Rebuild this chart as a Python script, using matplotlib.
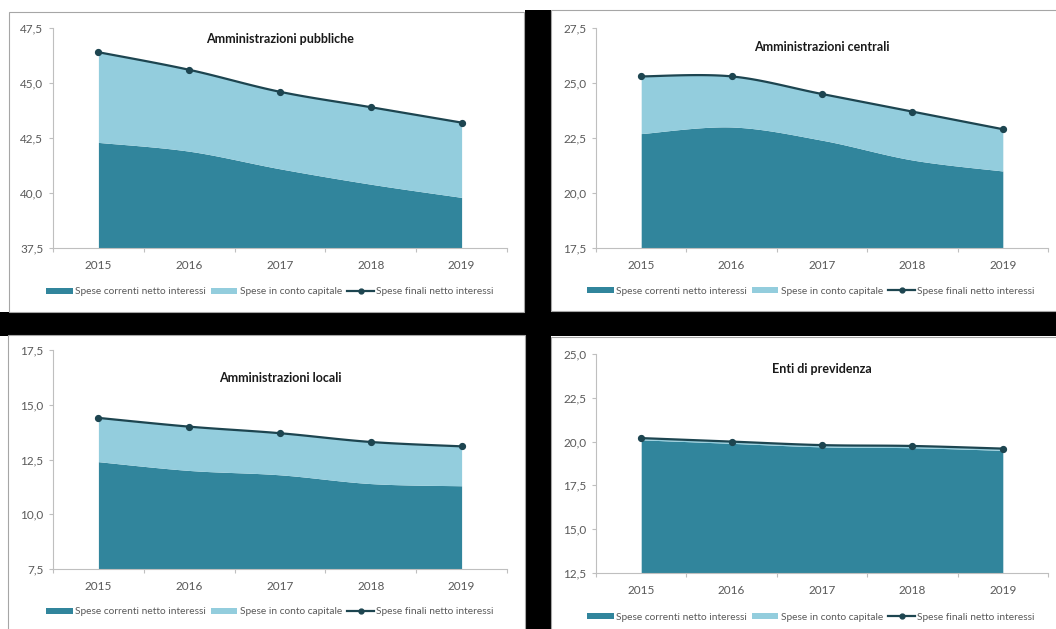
import numpy as np
import matplotlib
matplotlib.use("Agg")
import matplotlib.pyplot as plt
from matplotlib.patches import Rectangle, Patch
from matplotlib.lines import Line2D
from matplotlib.ticker import FixedLocator, FuncFormatter

plt.rcParams['font.family'] = ['Lato', 'DejaVu Sans']

anni = ["2015", "2016", "2017", "2018", "2019"]

# Amministrazioni pubbliche
pa_correnti = [42.3, 41.9, 41.1, 40.4, 39.8]
pa_capitale = [4.1, 3.7, 3.5, 3.5, 3.4]
pa_finali = [46.4, 45.6, 44.6, 43.9, 43.2]

# Amministrazioni centrali
ac_correnti = [22.7, 23.0, 22.4, 21.5, 21.0]
ac_capitale = [2.6, 2.3, 2.1, 2.2, 1.9]
ac_finali = [25.3, 25.3, 24.5, 23.7, 22.9]

# Amministrazioni locali
al_correnti = [12.4, 12.0, 11.8, 11.4, 11.3]
al_capitale = [2.0, 2.0, 1.9, 1.9, 1.8]
al_finali = [14.4, 14.0, 13.7, 13.3, 13.1]

# Enti di previdenza
ep_correnti = [20.1, 19.9, 19.7, 19.65, 19.5]
ep_capitale = [0.1, 0.1, 0.1, 0.1, 0.1]
ep_finali = [20.2, 20.0, 19.8, 19.75, 19.6]

titoli = ["Amministrazioni pubbliche", "Amministrazioni centrali",
          "Amministrazioni locali", "Enti di previdenza"]
nomi_serie = ["Spese correnti netto interessi", "Spese in conto capitale",
              "Spese finali netto interessi"]

C_DARK = "#31859C"
C_LIGHT = "#93CDDD"
C_LINE = "#1D4550"
C_TEXT = "#595959"
C_AXIS = "#BFBFBF"

W, H = 1056, 629
fig = plt.figure(figsize=(W / 100, H / 100), dpi=100)
fig.patch.set_facecolor("white")


def fx(x):
    return x / W


def fy(y):
    return 1 - y / H


def px_rect(x0, y0, x1, y1, **kw):
    """Rectangle given in pixel coordinates measured from the top-left corner."""
    return Rectangle((fx(x0), fy(y1)), fx(x1 - x0), fy(y0) - fy(y1),
                     transform=fig.transFigure, **kw)


def smooth(y, n=30):
    """Cardinal (Catmull-Rom style) Bezier smoothing through the points."""
    y = np.asarray(y, float)
    x = np.arange(len(y), dtype=float)
    xs, ys = [], []
    for i in range(len(y) - 1):
        p0 = (x[max(i - 1, 0)], y[max(i - 1, 0)])
        p1 = (x[i], y[i])
        p2 = (x[i + 1], y[i + 1])
        p3 = (x[min(i + 2, len(y) - 1)], y[min(i + 2, len(y) - 1)])
        c1 = (p1[0] + (p2[0] - p0[0]) / 6, p1[1] + (p2[1] - p0[1]) / 6)
        c2 = (p2[0] - (p3[0] - p1[0]) / 6, p2[1] - (p3[1] - p1[1]) / 6)
        t = np.linspace(0, 1, n, endpoint=(i == len(y) - 2))
        b0 = (1 - t) ** 3
        b1 = 3 * (1 - t) ** 2 * t
        b2 = 3 * (1 - t) * t ** 2
        b3 = t ** 3
        xs.append(b0 * p1[0] + b1 * c1[0] + b2 * c2[0] + b3 * p2[0])
        ys.append(b0 * p1[1] + b1 * c1[1] + b2 * c2[1] + b3 * p2[1])
    return np.concatenate(xs), np.concatenate(ys)


# black separators between the four panels
fig.add_artist(px_rect(525, 10, 551, 629, facecolor="black", edgecolor="none", zorder=0))
fig.add_artist(px_rect(0, 312, 1056, 336, facecolor="black", edgecolor="none", zorder=0))

# panel frames (x0, y0, x1, y1) in pixels
frames = [(9, 12, 524, 312), (551, 10, 1062, 311), (8, 335, 525, 635), (551, 337, 1062, 635)]
for (x0, y0, x1, y1) in frames:
    fig.add_artist(px_rect(x0, y0, x1, y1, facecolor="white",
                           edgecolor="#A6A6A6", linewidth=0.8, zorder=0.5))

panels = [
    dict(corr=pa_correnti, cap=pa_capitale, fin=pa_finali, ylim=(37.5, 47.5),
         box=(53, 28, 507, 248), title_y=39, leg_y=292, leg_x=(43, 497)),
    dict(corr=ac_correnti, cap=ac_capitale, fin=ac_finali, ylim=(17.5, 27.5),
         box=(596, 28, 1048, 248), title_y=47, leg_y=291, leg_x=(586, 1036)),
    dict(corr=al_correnti, cap=al_capitale, fin=al_finali, ylim=(7.5, 17.5),
         box=(53, 350, 507, 569), title_y=378, leg_y=612, leg_x=(43, 497)),
    dict(corr=ep_correnti, cap=ep_capitale, fin=ep_finali, ylim=(12.5, 25.0),
         box=(596, 354, 1048, 573), title_y=369, leg_y=617, leg_x=(586, 1036)),
]

for p, titolo in zip(panels, titoli):
    x0, y0, x1, y1 = p["box"]
    ax = fig.add_axes([fx(x0), fy(y1), fx(x1 - x0), fy(y0) - fy(y1)])
    ax.set_facecolor("none")
    ax.set_zorder(2)

    corr = np.asarray(p["corr"], float)
    top = corr + np.asarray(p["cap"], float)
    xs, ys_corr = smooth(corr)
    _, ys_top = smooth(top)
    xl, ys_fin = smooth(p["fin"])
    lo = p["ylim"][0]

    ax.fill_between(xs, lo, ys_corr, color=C_DARK, linewidth=0, zorder=1)
    ax.fill_between(xs, ys_corr, ys_top, color=C_LIGHT, linewidth=0, zorder=1)
    ax.plot(xl, ys_fin, color=C_LINE, linewidth=1.6, zorder=3, solid_capstyle="round")
    ax.plot(np.arange(len(anni)), p["fin"], linestyle="none", marker="o",
            markersize=4.2, color=C_LINE, zorder=4)

    ax.set_xlim(-0.5, len(anni) - 0.5)
    ax.set_ylim(*p["ylim"])
    ax.set_yticks(np.arange(p["ylim"][0], p["ylim"][1] + 0.01, 2.5))
    ax.yaxis.set_major_formatter(FuncFormatter(lambda v, pos: f"{v:.1f}".replace(".", ",")))
    ax.set_xticks(np.arange(len(anni)))
    ax.set_xticklabels(anni)
    ax.xaxis.set_minor_locator(FixedLocator(np.arange(-0.5, len(anni), 1.0)))

    for s in ("top", "right"):
        ax.spines[s].set_visible(False)
    for s in ("left", "bottom"):
        ax.spines[s].set_color(C_AXIS)
        ax.spines[s].set_linewidth(0.8)
    ax.tick_params(axis="x", which="major", length=0, pad=9, labelsize=8.5, labelcolor=C_TEXT)
    ax.tick_params(axis="x", which="minor", length=3, color=C_AXIS, width=0.8)
    ax.tick_params(axis="y", which="major", length=3, color=C_AXIS, width=0.8,
                   pad=4, labelsize=8.5, labelcolor=C_TEXT)

    fig.text(fx((x0 + x1) / 2), fy(p["title_y"]), titolo, ha="center", va="center",
             fontsize=9, fontweight="bold", color="#1a1a1a", zorder=5)

    handles = [Patch(facecolor=C_DARK, edgecolor="none"),
               Patch(facecolor=C_LIGHT, edgecolor="none"),
               Line2D([], [], color=C_LINE, linewidth=1.6, marker="o", markersize=3.5)]
    lx0, lx1 = p["leg_x"]
    fig.legend(handles, nomi_serie, loc="center",
               bbox_to_anchor=(fx((lx0 + lx1) / 2), fy(p["leg_y"])),
               ncol=3, frameon=False, fontsize=7.3, labelcolor=C_TEXT,
               handlelength=2.6, handleheight=0.5, handletextpad=0.25,
               columnspacing=0.5, borderpad=0, borderaxespad=0)

fig.savefig("out.png", dpi=100, facecolor="white")
